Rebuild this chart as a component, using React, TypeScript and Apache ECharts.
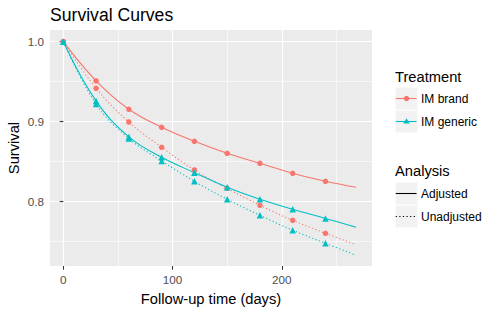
import React, { useEffect, useRef } from "react";
import * as echarts from "echarts";

const days = [0, 30, 60, 90, 120, 150, 180, 210, 240];
const endDay = 268;
const brandAdjusted = [1.0, 0.951, 0.9155, 0.893, 0.8755, 0.8605, 0.848, 0.8355, 0.8255];
const brandAdjustedEnd = 0.818;
const brandUnadjusted = [1.0, 0.9417, 0.8996, 0.868, 0.8396, 0.8167, 0.7955, 0.7767, 0.7605];
const brandUnadjustedEnd = 0.7463;
const genericAdjusted = [1.0, 0.926, 0.881, 0.8555, 0.8363, 0.818, 0.803, 0.7905, 0.779];
const genericAdjustedEnd = 0.768;
const genericUnadjusted = [1.0, 0.922, 0.879, 0.851, 0.8255, 0.803, 0.783, 0.7643, 0.748];
const genericUnadjustedEnd = 0.733;

const xMajor = [0, 100, 200];
const xMinor = [50, 150, 250];
const yMajor = [0.8, 0.9, 1.0];
const yMinor = [0.75, 0.85, 0.95];

const RED = "#F8766D";
const TEAL = "#00BFC4";
const FONT = "Liberation Sans, Arial, sans-serif";

function mkSeries(name: string, vals: number[], end: number, color: string, symbol: string, size: number, dotted: boolean) {
  const data: any[] = days.map((d, i) => [d, vals[i]]);
  data.push({ value: [endDay, end], symbol: "none" });
  return {
    name,
    type: "line",
    data,
    smooth: 0.4,
    symbol,
    symbolSize: size,
    showSymbol: true,
    itemStyle: { color },
    lineStyle: { color, width: 1.07, type: dotted ? [1.2, 2.4] : "solid" },
    xAxisIndex: 0,
    yAxisIndex: 0,
    silent: true,
  };
}

const X_MIN = -12.2;
const X_MAX = 282.6;
const Y_MIN = 0.7196;
const Y_MAX = 1.0146;

const option: any = {
  animation: false,
  grid: { left: 50, top: 30, width: 322, height: 236, show: true, backgroundColor: "#EBEBEB", borderWidth: 0 },
  xAxis: [
    {
      type: "value",
      min: X_MIN,
      max: X_MAX,
      axisLine: { show: false },
      axisTick: { show: true, length: 3.7, customValues: xMajor, lineStyle: { color: "#333333", width: 1.07 } },
      axisLabel: { show: true, customValues: xMajor, margin: 7, color: "#4D4D4D", fontSize: 11.7, fontFamily: FONT, formatter: (v: number) => String(v) },
      splitLine: { show: true, lineStyle: { color: "#FFFFFF", width: 1.2 } },
    },
    {
      type: "value",
      min: X_MIN,
      max: X_MAX,
      position: "bottom",
      axisLine: { show: false },
      axisTick: { show: false, customValues: xMinor },
      axisLabel: { show: false, customValues: xMinor },
      splitLine: { show: true, lineStyle: { color: "#FFFFFF", width: 0.6 } },
    },
  ],
  yAxis: [
    {
      type: "value",
      min: Y_MIN,
      max: Y_MAX,
      axisLine: { show: false },
      axisTick: { show: true, length: 3.7, customValues: yMajor, lineStyle: { color: "#333333", width: 1.07 } },
      axisLabel: { show: true, customValues: yMajor, margin: 6, color: "#4D4D4D", fontSize: 11.7, fontFamily: FONT, formatter: (v: number) => v.toFixed(1) },
      splitLine: { show: true, lineStyle: { color: "#FFFFFF", width: 1.2 } },
    },
    {
      type: "value",
      min: Y_MIN,
      max: Y_MAX,
      position: "left",
      axisLine: { show: false },
      axisTick: { show: false, customValues: yMinor },
      axisLabel: { show: false, customValues: yMinor },
      splitLine: { show: true, lineStyle: { color: "#FFFFFF", width: 0.6 } },
    },
  ],
  series: [
    mkSeries("IM brand Adjusted", brandAdjusted, brandAdjustedEnd, RED, "circle", 5.5, false),
    mkSeries("IM brand Unadjusted", brandUnadjusted, brandUnadjustedEnd, RED, "circle", 5.5, true),
    mkSeries("IM generic Adjusted", genericAdjusted, genericAdjustedEnd, TEAL, "triangle", 6.5, false),
    mkSeries("IM generic Unadjusted", genericUnadjusted, genericUnadjustedEnd, TEAL, "triangle", 6.5, true),
  ],
  graphic: [
    { type: "text", left: 50, top: 6, style: { text: "Survival Curves", fontSize: 17.6, fontFamily: FONT, fill: "#000" } },
    { type: "text", x: 211, y: 299.3, style: { text: "Follow-up time (days)", fontSize: 14.7, fontFamily: FONT, fill: "#000", align: "center", verticalAlign: "middle" } },
    { type: "text", x: 14, y: 148, rotation: Math.PI / 2, style: { text: "Survival", fontSize: 14.7, fontFamily: FONT, fill: "#000", align: "center", verticalAlign: "middle" } },
    // Legend: Treatment
    { type: "text", x: 395, y: 77, style: { text: "Treatment", fontSize: 14.7, fontFamily: FONT, fill: "#000", verticalAlign: "middle" } },
    { type: "rect", shape: { x: 395.5, y: 87.5, width: 22, height: 22 }, style: { fill: "#F2F2F2" } },
    { type: "rect", shape: { x: 395.5, y: 110.5, width: 22, height: 22 }, style: { fill: "#F2F2F2" } },
    { type: "line", shape: { x1: 395.7, y1: 98.5, x2: 416.5, y2: 98.5 }, style: { stroke: RED, lineWidth: 1.07 } },
    { type: "circle", shape: { cx: 406.5, cy: 98.5, r: 2.7 }, style: { fill: RED } },
    { type: "line", shape: { x1: 395.7, y1: 121.5, x2: 416.5, y2: 121.5 }, style: { stroke: TEAL, lineWidth: 1.07 } },
    { type: "polygon", shape: { points: [[406.5, 118.3], [403.3, 123.6], [409.7, 123.6]] }, style: { fill: TEAL } },
    { type: "text", x: 421, y: 99, style: { text: "IM brand", fontSize: 12, fontFamily: FONT, fill: "#000", verticalAlign: "middle" } },
    { type: "text", x: 421, y: 122, style: { text: "IM generic", fontSize: 12, fontFamily: FONT, fill: "#000", verticalAlign: "middle" } },
    // Legend: Analysis
    { type: "text", x: 395, y: 171, style: { text: "Analysis", fontSize: 14.7, fontFamily: FONT, fill: "#000", verticalAlign: "middle" } },
    { type: "rect", shape: { x: 395.5, y: 182.5, width: 22, height: 22 }, style: { fill: "#F2F2F2" } },
    { type: "rect", shape: { x: 395.5, y: 205.5, width: 22, height: 22 }, style: { fill: "#F2F2F2" } },
    { type: "line", shape: { x1: 395.7, y1: 193.5, x2: 416.5, y2: 193.5 }, style: { stroke: "#000", lineWidth: 1.07 } },
    { type: "line", shape: { x1: 395.7, y1: 216.5, x2: 416.5, y2: 216.5 }, style: { stroke: "#000", lineWidth: 1.07, lineDash: [1.2, 2.4] } },
    { type: "text", x: 421, y: 193.5, style: { text: "Adjusted", fontSize: 12, fontFamily: FONT, fill: "#000", verticalAlign: "middle" } },
    { type: "text", x: 421, y: 216.5, style: { text: "Unadjusted", fontSize: 12, fontFamily: FONT, fill: "#000", verticalAlign: "middle" } },
  ],
};

export default function App() {
  const ref = useRef<HTMLDivElement>(null);
  useEffect(() => {
    const chart = echarts.init(ref.current!, undefined, { renderer: "svg" });
    chart.setOption(option);
    return () => chart.dispose();
  }, []);
  return <div ref={ref} style={{ position: "absolute", left: 0, top: 0, width: 500, height: 313, background: "#fff" }} />;
}
